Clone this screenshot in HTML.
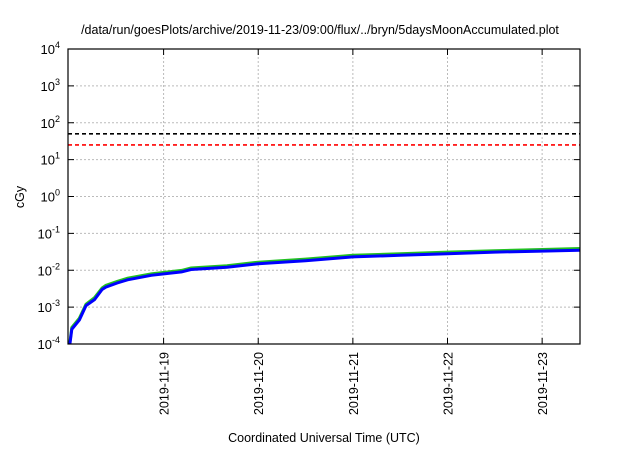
<!DOCTYPE html>
<html><head><meta charset="utf-8"><style>
body{margin:0;background:#fff;font-family:"Liberation Sans",sans-serif}
svg text{font-family:"Liberation Sans",sans-serif;fill:#000}
</style></head><body>
<svg id="c" width="640" height="448" xmlns="http://www.w3.org/2000/svg"></svg>
<script>
// days since 2019-11-18 00:00 UTC
const blueT=[0.01,0.03,0.11,0.18,0.27,0.35,0.39,0.51,0.62,0.87,1.19,1.29,1.67,2.0,2.5,3.0,3.5,4.0,4.5,5.0,5.4];
const blueV=[1e-4,2.5e-4,4.5e-4,1.1e-3,1.6e-3,3e-3,3.5e-3,4.5e-3,5.5e-3,7.3e-3,9e-3,1.05e-2,1.2e-2,1.5e-2,1.8e-2,2.3e-2,2.55e-2,2.8e-2,3.1e-2,3.3e-2,3.5e-2];
const greenT=blueT;
const greenV=[1.1e-4,2.8e-4,5e-4,1.2e-3,1.8e-3,3.3e-3,3.9e-3,5e-3,6.1e-3,8e-3,9.9e-3,1.15e-2,1.32e-2,1.65e-2,2e-2,2.55e-2,2.8e-2,3.1e-2,3.4e-2,3.65e-2,3.9e-2];
const thresholdBlack=50, thresholdRed=25;
const xTickDays=[1,2,3,4,5];
const xTickLabels=["2019-11-19","2019-11-20","2019-11-21","2019-11-22","2019-11-23"];
const yTickExp=[-4,-3,-2,-1,0,1,2,3,4];

const L=68,R=580,T=49,B=344,d0=-0.01,d1=5.4;
const X=d=>L+(d-d0)/(d1-d0)*(R-L);
const Y=v=>B-(Math.log10(v)+4)/8*(B-T);
const svg=document.getElementById('c');const NS='http://www.w3.org/2000/svg';
function mk(tag,attrs,parent){const e=document.createElementNS(NS,tag);for(const k in attrs)e.setAttribute(k,attrs[k]);(parent||svg).appendChild(e);return e;}
function txt(x,y,s,attrs){const e=mk('text',Object.assign({x:x,y:y},attrs||{}));e.textContent=s;return e;}

const t=txt(320,34,"/data/run/goesPlots/archive/2019-11-23/09:00/flux/../bryn/5daysMoonAccumulated.plot",{'text-anchor':'middle','font-size':'12.5'});



yTickExp.forEach(e=>{const y=Y(Math.pow(10,e));
 if(e>-4&&e<4){const g=mk('line',{x1:L,x2:R,y1:y,y2:y,stroke:'#bbb','stroke-dasharray':'2,2','stroke-width':1});
 
 }
 mk('line',{x1:L,x2:L+6,y1:y,y2:y,stroke:'#000'});mk('line',{x1:R-6,x2:R,y1:y,y2:y,stroke:'#000'});
 const lb=txt(L-8,y+5,"10",{'text-anchor':'end','font-size':'13'});
 const sp=document.createElementNS(NS,'tspan');sp.setAttribute('dy','-6');sp.setAttribute('font-size','9');sp.textContent=String(e);lb.appendChild(sp);
 
 
});
xTickDays.forEach((d,i)=>{const x=X(d);
 const g=mk('line',{x1:x,x2:x,y1:T,y2:B,stroke:'#bbb','stroke-dasharray':'2,2','stroke-width':1});
 
 
 mk('line',{x1:x,x2:x,y1:B-6,y2:B,stroke:'#000'});mk('line',{x1:x,x2:x,y1:T,y2:T+6,stroke:'#000'});
 const lb=txt(0,0,xTickLabels[i],{'text-anchor':'end','font-size':'12.5',transform:`translate(${x+5},${B+8}) rotate(-90)`});
 
 
});
const bl=mk('line',{x1:L,x2:R,y1:Y(thresholdBlack),y2:Y(thresholdBlack),stroke:'#000','stroke-width':1.6,'stroke-dasharray':'4,3'});


const rl=mk('line',{x1:L,x2:R,y1:Y(thresholdRed),y2:Y(thresholdRed),stroke:'#f00','stroke-width':1.6,'stroke-dasharray':'4,3'});


const pts=(ts,vs)=>ts.map((d,i)=>X(d).toFixed(1)+','+Y(vs[i]).toFixed(1)).join(' ');
const gp=mk('polyline',{points:pts(greenT,greenV),fill:'none',stroke:'#22c022','stroke-width':3});


const bp=mk('polyline',{points:pts(blueT,blueV),fill:'none',stroke:'#0000ff','stroke-width':3});


const fr=mk('rect',{x:L,y:T,width:R-L,height:B-T,fill:'none',stroke:'#000','stroke-width':1.2});


const yt=txt(0,0,"cGy",{'text-anchor':'middle','font-size':'12.5',transform:'translate(24,197) rotate(-90)'});


const xt=txt(324,442,"Coordinated Universal Time (UTC)",{'text-anchor':'middle','font-size':'12.5'});


</script>
</body></html>
